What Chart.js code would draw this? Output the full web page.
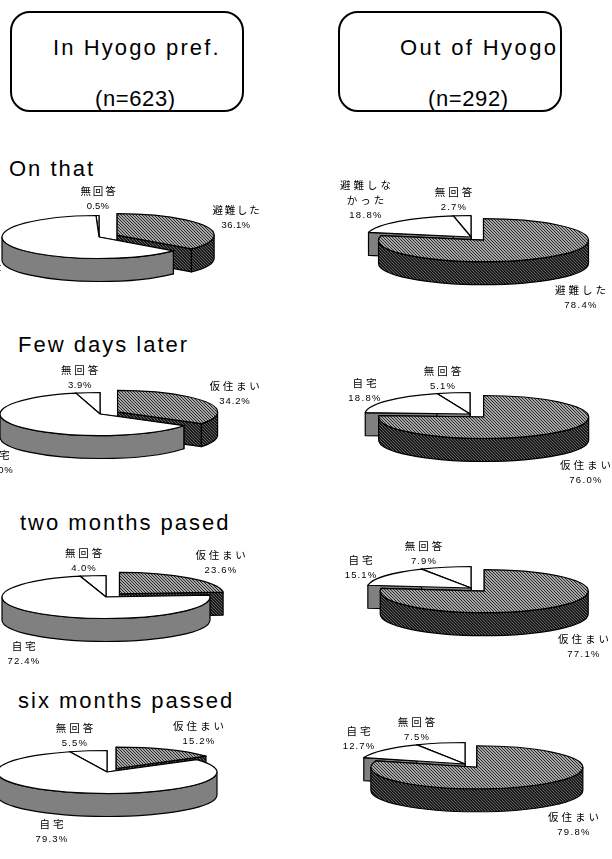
<!DOCTYPE html>
<html lang="ja">
<head>
<meta charset="utf-8">
<title>Hyogo evacuation pies</title>
<script src="https://cdn.jsdelivr.net/npm/chart.js@4/dist/chart.umd.min.js"></script>
<style>
  html, body { margin: 0; padding: 0; background: #fff; }
  #page { position: relative; width: 612px; height: 859px; overflow: hidden; }
  #page canvas { position: absolute; }
  .box { position: absolute; top: 11px; height: 97px; border: 2px solid #000; border-radius: 20px; box-sizing: content-box; }
  .txt { position: absolute; font: 22px/24px "Liberation Sans", sans-serif; color: #000; white-space: nowrap; }
</style>
</head>
<body>
<div id="page">
  <div class="box" style="left:10px;width:230px"></div>
  <div class="box" style="left:338px;width:220px"></div>
  <div class="txt" style="left:53px;top:36px;letter-spacing:2.1px">In Hyogo pref.</div>
  <div class="txt" style="left:95px;top:87px;letter-spacing:.6px">(n=623)</div>
  <div class="txt" style="left:400px;top:36px;letter-spacing:2.4px">Out of Hyogo</div>
  <div class="txt" style="left:428px;top:87px;letter-spacing:.6px">(n=292)</div>
  <div class="txt" style="left:9px;top:157px;letter-spacing:2px">On that</div>
  <div class="txt" style="left:18px;top:333px;letter-spacing:2px">Few days later</div>
  <div class="txt" style="left:20px;top:511px;letter-spacing:2px">two months pased</div>
  <div class="txt" style="left:18px;top:689px;letter-spacing:2px">six months passed</div>
</div>
<script>
// slice labels, clockwise from 12 o'clock
const labelsEvac = ['避難した', ['避難しな', 'かった'], '無回答'];
const labelsHome = ['仮住まい', '自宅', '無回答'];

// percentages per period
const hyogoOnThat = [36.1, 63.4, 0.5];
const hyogoFewDays = [34.2, 62.0, 3.9];
const hyogoTwoMonths = [23.6, 72.4, 4.0];
const hyogoSixMonths = [15.2, 79.3, 5.5];
const outOnThat = [78.4, 18.8, 2.7];
const outFewDays = [76.0, 18.8, 5.1];
const outTwoMonths = [77.1, 15.1, 7.9];
const outSixMonths = [79.8, 12.7, 7.5];

const CANVAS_W = 360;
const CANVAS_H = 190;
const SEMI_MINOR = 21.5;
const DEPTH = 23;

// hatch tile: diagonal stripes running down to the right
function hatch(dark, light, period, stripe) {
  const c = document.createElement('canvas');
  c.width = c.height = period;
  const g = c.getContext('2d');
  for (let y = 0; y < period; y++) {
    for (let x = 0; x < period; x++) {
      g.fillStyle = ((x - y + period) % period) < stripe ? dark : light;
      g.fillRect(x, y, 1, 1);
    }
  }
  return g.createPattern(c, 'repeat');
}

const hatchTop = hatch('#2c2c2c', '#a6a6a6', 3, 1);
const hatchSide = hatch('#1a1a1a', '#636363', 3, 2);

// flattened pie with a rim, built from the arcs Chart.js has laid out
const pie3d = {
  id: 'pie3d',
  beforeDatasetsDraw(chart, args, opts) {
    const ctx = chart.ctx;
    const meta = chart.getDatasetMeta(0);
    const ds = chart.data.datasets[0];
    const slices = meta.data.map((el, i) => {
      const p = el.getProps(['x', 'y', 'startAngle', 'endAngle', 'outerRadius'], true);
      const mid = (p.startAngle + p.endAngle) / 2;
      const off = el.options.offset || 0;
      return {
        i, r: p.outerRadius, start: p.startAngle, end: p.endAngle,
        ry: SEMI_MINOR,
        x: p.x + Math.cos(mid) * off,
        y: p.y + Math.sin(mid) * off * SEMI_MINOR / p.outerRadius,
        top: el.options.backgroundColor,
        side: ds.sideColor[i]
      };
    });

    ctx.save();
    ctx.strokeStyle = '#000';
    ctx.lineWidth = 1.2;
    ctx.lineJoin = 'round';

    // small slices sit behind the bigger ones
    slices.sort((a, b) => (a.end - a.start) - (b.end - b.start));
    slices.forEach(s => {
      ctx.fillStyle = s.side;
      [s.start, s.end].forEach(a => {
        const ex = s.x + Math.cos(a) * s.r;
        const ey = s.y + Math.sin(a) * s.ry;
        ctx.beginPath();
        ctx.moveTo(s.x, s.y);
        ctx.lineTo(ex, ey);
        ctx.lineTo(ex, ey + DEPTH);
        ctx.lineTo(s.x, s.y + DEPTH);
        ctx.closePath();
        ctx.fill();
        ctx.stroke();
      });

      // rim: only the stretch of the arc that faces the viewer
      for (const turn of [0, Math.PI * 2]) {
        const a0 = Math.max(s.start, turn);
        const a1 = Math.min(s.end, turn + Math.PI);
        if (a1 <= a0) continue;
        ctx.beginPath();
        ctx.ellipse(s.x, s.y, s.r, s.ry, 0, a0, a1);
        ctx.ellipse(s.x, s.y + DEPTH, s.r, s.ry, 0, a1, a0, true);
        ctx.closePath();
        ctx.fill();
        ctx.stroke();
      }

      ctx.fillStyle = s.top;
      ctx.beginPath();
      ctx.moveTo(s.x, s.y);
      ctx.ellipse(s.x, s.y, s.r, s.ry, 0, s.start, s.end);
      ctx.closePath();
      ctx.fill();
      ctx.stroke();
    });

    // slice captions, positions are page coordinates
    const left = parseFloat(chart.canvas.style.left);
    const topEdge = parseFloat(chart.canvas.style.top);
    ctx.fillStyle = '#000';
    ctx.textAlign = 'center';
    ctx.textBaseline = 'middle';
    chart.data.labels.forEach((label, i) => {
      const [lx, ly] = opts.spots[i];
      const lines = Array.isArray(label) ? label : [label];
      ctx.font = '10.5px "Noto Sans CJK JP", sans-serif';
      ctx.letterSpacing = opts.wide + 'px';
      lines.forEach((t, n) => ctx.fillText(t, lx - left + 1, ly - topEdge + n * 15));
      ctx.font = '9.5px "Liberation Sans", sans-serif';
      ctx.letterSpacing = opts.tracking[i] + 'px';
      const val = ds.data[i].toFixed(1) + '%';
      ctx.fillText(val, lx - left, ly - topEdge + lines.length * 15);
    });
    ctx.restore();
    return false;
  }
};

function addPie(labels, values, place, spots, wide, tracking) {
  const canvas = document.createElement('canvas');
  canvas.width = CANVAS_W;
  canvas.height = CANVAS_H;
  canvas.style.left = (place[0] - CANVAS_W / 2) + 'px';
  canvas.style.top = (place[1] - CANVAS_H / 2) + 'px';
  document.getElementById('page').appendChild(canvas);

  return new Chart(canvas.getContext('2d'), {
    type: 'pie',
    data: {
      labels,
      datasets: [{
        data: values,
        radius: place[2],
        offset: [20, 0, 0],
        backgroundColor: [hatchTop, '#fff', '#fff'],
        sideColor: [hatchSide, '#808080', '#fff']
      }]
    },
    options: {
      responsive: false,
      animation: false,
      events: [],
      plugins: {
        legend: { display: false },
        tooltip: { enabled: false },
        pie3d: { spots, wide, tracking }
      }
    },
    plugins: [pie3d]
  });
}

addPie(labelsEvac, hyogoOnThat, [99, 237, 97], [[236, 210], [-22, 267], [98, 191]], 1.8, [.4, .4, .2]);
addPie(labelsHome, hyogoFewDays, [100, 414, 100], [[235, 386], [-2, 455], [80, 370]], 2.8, [.9, .9, .6]);
addPie(labelsHome, hyogoTwoMonths, [106, 597, 104], [[221, 555], [24, 646], [84, 553]], 2.8, [1.2, 1.2, .9]);
addPie(labelsHome, hyogoSixMonths, [107, 772, 110], [[199, 726], [52, 824], [75, 728]], 3, [1.2, 1.2, 1.2]);
addPie(labelsEvac, outOnThat, [471, 237, 105], [[581, 290], [366, 185], [454, 192]], 3, [1.3, 1.3, 1.2]);
addPie(labelsHome, outFewDays, [470, 414, 105], [[586, 465], [365, 383], [443, 371]], 3, [1.3, 1.3, 1.1]);
addPie(labelsHome, outTwoMonths, [471, 588, 104], [[584, 639], [361, 560], [424, 546]], 3, [1.3, 1.1, 1.1]);
addPie(labelsHome, outSixMonths, [465, 764, 106], [[574, 817], [359, 731], [417, 722]], 3, [1.3, 1.1, 1.1]);
</script>
</body>
</html>
